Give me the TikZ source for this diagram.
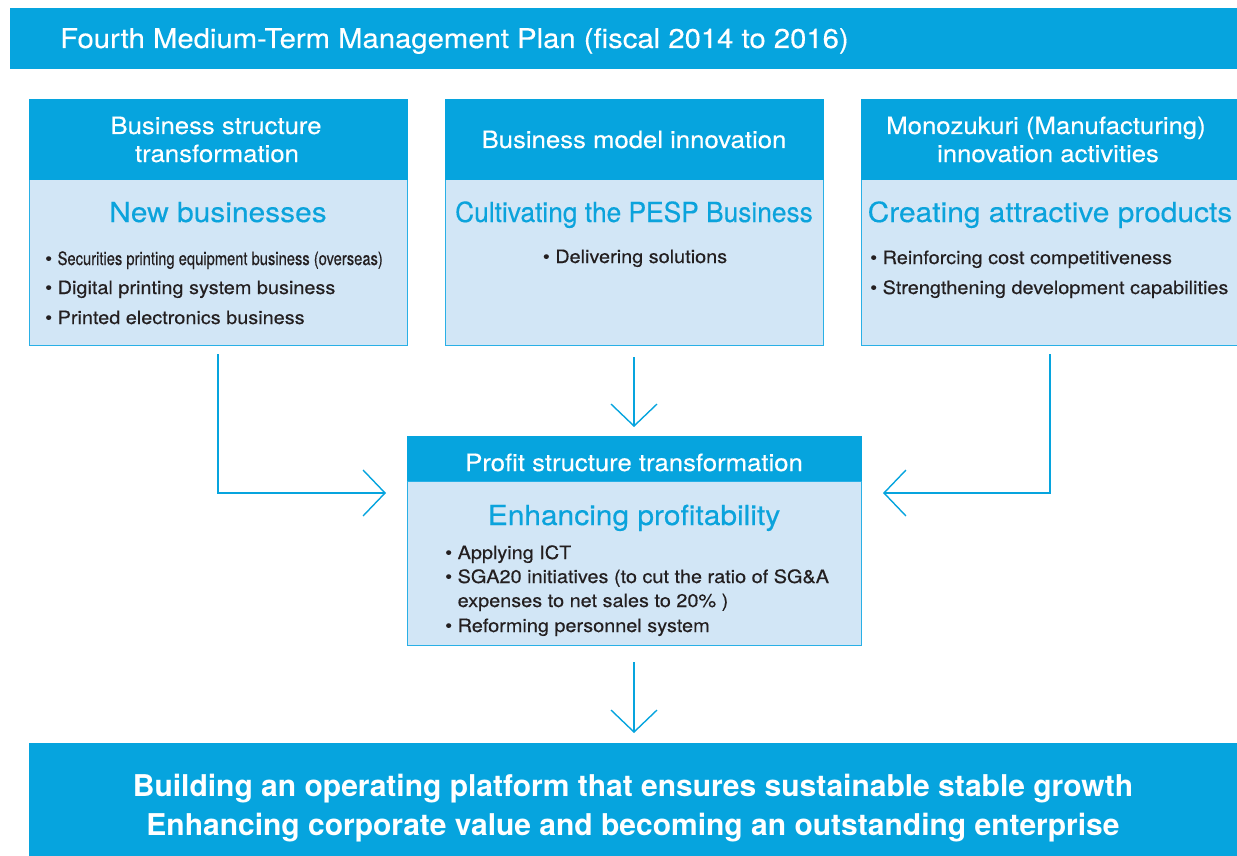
\documentclass[tikz,border=0pt]{standalone}
\usepackage{fontspec}
\setmainfont{TeX Gyre Heros}[FakeStretch=1.08, FakeBold=0.35]
\newfontfamily\narrowfont{TeX Gyre Heros}[FakeStretch=0.80, FakeBold=0.35]
\newfontfamily\goalnarrow{TeX Gyre Heros}[FakeStretch=0.95, FakeBold=0.35]
\newfontfamily\heavyfont{TeX Gyre Heros}[FakeStretch=1.0]
\usetikzlibrary{arrows.meta}
\definecolor{barblue}{HTML}{06A4DE}
\definecolor{rimblue}{HTML}{29B0E6}
\definecolor{paleblue}{HTML}{D2E6F6}
\definecolor{headtext}{HTML}{0BA3DC}
\definecolor{inktext}{HTML}{231F20}
\tikzset{
  bar/.style={fill=barblue, draw=none, inner sep=0pt, anchor=north west},
  hdr/.style={fill=barblue, draw=none, inner sep=0pt, anchor=north west},
  hdrtext/.style={text=white, align=center, inner sep=0pt, anchor=base,
              font=\fontsize{23.8}{28}\selectfont},
  panel/.style={fill=rimblue, draw=none, inner sep=0pt, anchor=north west},
  goal/.style={text=headtext, font=\fontsize{27.7}{30}\selectfont, inner sep=0pt, anchor=base},
  item/.style={text=inktext, font=\fontsize{18.4}{25}\selectfont, inner sep=0pt, anchor=base west},
  flow/.style={draw=barblue, line width=1.4pt,
               -{Straight Barb[length=22pt, width=46pt, line width=1.4pt]}},
}
\begin{document}
\begin{tikzpicture}[x=1pt, y=-1pt]
\useasboundingbox (0,0) rectangle (1237,856);

% plan banner
\node[bar, minimum width=1227pt, minimum height=61pt] (banner) at (10,8) {};
\node[anchor=base west, text=white, inner sep=0pt, font=\fontsize{27.1}{32}\selectfont]
  (bannertext) at (60,48) {Fourth Medium-Term Management Plan (fiscal 2014 to 2016)};

% pale bodies: a blue plate with a pale inset leaves a thin blue rim
\node[panel, minimum width=379pt, minimum height=167pt] (p1) at (28.5,178.5) {};
\node[panel, minimum width=379pt, minimum height=167pt] (p2) at (444.5,178.5) {};
\node[panel, minimum width=381pt, minimum height=167pt] (p3) at (860.5,178.5) {};
\node[panel, minimum width=455pt, minimum height=165pt] (pm) at (406.5,480.5) {};
\foreach \p in {p1,p2,p3,pm}
  \fill[paleblue] ([shift={(1.3,1.3)}]\p.north west) rectangle ([shift={(-1.3,-1.3)}]\p.south east);

% headers
\node[hdr, minimum width=379pt, minimum height=81pt] (h1) at (28.5,99) {};
\node[hdrtext] (h1a) at (216,134) {Business structure};
\node[hdrtext] (h1b) at (217,162) {transformation};
\node[hdr, minimum width=379pt, minimum height=81pt] (h2) at (444.5,99) {};
\node[hdrtext] (h2a) at (634,148) {Business model innovation};
\node[hdr, minimum width=381pt, minimum height=81pt] (h3) at (860.5,99) {};
\node[hdrtext] (h3a) at (1046,134) {Monozukuri (Manufacturing)};
\node[hdrtext] (h3b) at (1048,162) {innovation activities};

\node[goal] (g1) at (218,222) {New businesses};
\node[goal] (g2) at (634,222) {\goalnarrow Cultivating the PESP Business};
\node[goal] (g3) at (1050,222) {Creating attractive products};

\node[item] (i11) at (45,265) {\textbullet\ {\narrowfont Securities printing equipment business (overseas)}};
\node[item] (i12) at (45,294) {\textbullet\ Digital printing system business};
\node[item] (i13) at (45,324) {\textbullet\ Printed electronics business};
\node[item, anchor=base] (i21) at (635,263) {\textbullet\ Delivering solutions};
\node[item] (i31) at (870,264) {\textbullet\ Reinforcing cost competitiveness};
\node[item] (i32) at (870,294) {\textbullet\ Strengthening development capabilities};

% profit structure box
\node[hdr, minimum width=455pt, minimum height=45pt] (hm) at (406.5,436) {};
\node[hdrtext] (hma) at (634,471) {Profit structure transformation};
\node[goal] (gm) at (634,525) {Enhancing profitability};
\node[item] (im1) at (445,559) {\textbullet\ Applying ICT};
\node[item] (im2) at (445,583) {\textbullet\ SGA20 initiatives (to cut the ratio of SG\&A};
\node[item] (im2b) at (445,607) {\phantom{\textbullet\ }expenses to net sales to 20\% )};
\node[item] (im3) at (445,632) {\textbullet\ Reforming personnel system};

% outcome banner
\node[bar, minimum width=1208pt, minimum height=113pt] (outcome) at (29,743) {};
\node[text=white, inner sep=0pt, anchor=base, font=\heavyfont\bfseries\fontsize{30}{40}\selectfont]
  (outcome1) at (633,796)
  {Building an operating platform that ensures sustainable stable growth};
\node[text=white, inner sep=0pt, anchor=base, font=\heavyfont\bfseries\fontsize{30}{40}\selectfont]
  (outcome2) at (633,835)
  {Enhancing corporate value and becoming an outstanding enterprise};

% connectors
\coordinate (s1) at (218,354);
\coordinate (e1) at (386,493);
\coordinate (s2) at (634,357);
\coordinate (e2) at (634,427);
\coordinate (s3) at (1050,354);
\coordinate (e3) at (883,493);
\coordinate (s4) at (634,662);
\coordinate (e4) at (634,733);
\draw[flow] (s1) |- (e1);
\draw[flow] (s2) -- (e2);
\draw[flow] (s3) |- (e3);
\draw[flow] (s4) -- (e4);
\end{tikzpicture}
\end{document}
